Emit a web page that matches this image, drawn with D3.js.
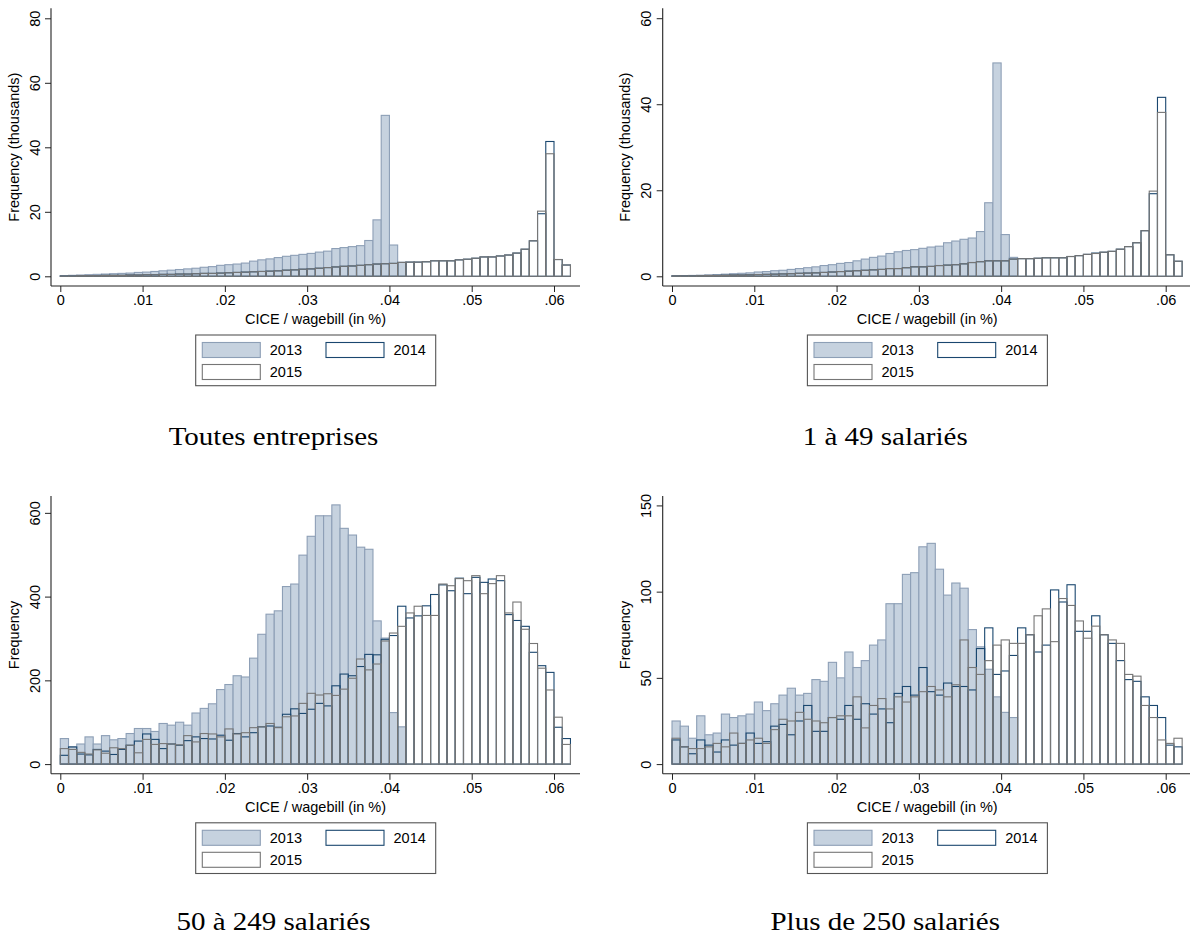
<!DOCTYPE html>
<html>
<head>
<meta charset="utf-8">
<script src="https://d3js.org/d3.v7.min.js"></script>
<style>
body { margin: 0; background: #fff; }
svg { display: block; }
text { font-family: "Liberation Sans", Arial, sans-serif; fill: #000; }
.title { font-family: "Liberation Serif", "Times New Roman", serif; }
</style>
</head>
<body>
<div id="chart"></div>
<script>
var width = 1190, height = 938;

// histogram bins: 0.001 wide, from 0 to .062
var binWidth = 0.001;
var xTicks = [0, .01, .02, .03, .04, .05, .06];
var xTickLabels = ["0", ".01", ".02", ".03", ".04", ".05", ".06"];
var years = ["2013", "2014", "2015"];

// Toutes entreprises (thousands)
var all2013 = [0.2,0.3,0.4,0.5,0.6,0.7,0.8,0.9,1.0,1.2, 1.3,1.5,1.7,1.9,2.1,2.3,2.5,2.8,3.0,3.4,
  3.6,3.8,4.1,4.7,5.1,5.4,5.8,6.2,6.5,6.8, 7.1,7.5,7.8,8.6,8.9,9.2,9.5,11.1,17.5,49.9, 9.7,4.3];
var all2014 = [0.1,0.1,0.2,0.2,0.2,0.3,0.3,0.3,0.4,0.4, 0.5,0.5,0.6,0.6,0.7,0.7,0.8,0.9,0.9,1.0,
  1.1,1.2,1.3,1.4,1.5,1.6,1.7,1.9,2.0,2.2, 2.3,2.5,2.7,2.9,3.1,3.2,3.4,3.6,3.8,3.9,
  4.0,4.3,4.4,4.4,4.5,4.8,4.8,4.8,5.1,5.3, 5.6,6.0,6.0,6.3,6.6,7.2,8.4,11.0,19.4,41.8, 5.2,3.5];
var all2015 = [0.1,0.1,0.2,0.2,0.2,0.3,0.3,0.3,0.4,0.4, 0.5,0.5,0.6,0.6,0.7,0.7,0.8,0.9,0.9,1.0,
  1.1,1.2,1.3,1.4,1.5,1.6,1.7,1.9,2.0,2.2, 2.3,2.5,2.7,2.9,3.1,3.2,3.4,3.6,3.8,3.9,
  4.0,4.3,4.4,4.4,4.5,4.8,4.8,4.8,5.1,5.3, 5.6,6.0,6.0,6.3,6.6,7.2,8.4,11.0,20.2,38.0, 5.2,3.5];

// 1 a 49 salaries (thousands)
var small2013 = [0.1,0.15,0.2,0.25,0.3,0.4,0.5,0.6,0.7,0.8, 1.0,1.1,1.3,1.4,1.6,1.8,2.0,2.2,2.5,2.7,
  3.0,3.2,3.6,4.0,4.4,4.7,5.3,5.7,6.0,6.2, 6.5,6.8,7.0,7.8,8.2,8.6,8.9,10.4,17.1,49.6, 9.7,4.4];
var small2014 = [0.1,0.1,0.1,0.15,0.2,0.2,0.25,0.3,0.3,0.35, 0.4,0.45,0.5,0.55,0.6,0.7,0.75,0.8,0.9,1.0,
  1.1,1.2,1.3,1.4,1.5,1.6,1.8,1.8,2.0,2.2, 2.2,2.3,2.5,2.6,2.7,2.9,3.2,3.4,3.6,3.6,
  3.6,4.0,4.1,4.1,4.2,4.3,4.3,4.3,4.6,4.8, 5.1,5.4,5.6,5.8,6.3,6.9,7.8,10.6,19.2,41.6, 5.0,3.5];
var small2015 = [0.1,0.1,0.1,0.15,0.2,0.2,0.25,0.3,0.3,0.35, 0.4,0.45,0.5,0.55,0.6,0.7,0.75,0.8,0.9,1.0,
  1.1,1.2,1.3,1.4,1.5,1.6,1.8,1.8,2.0,2.2, 2.2,2.3,2.5,2.6,2.7,2.9,3.2,3.4,3.6,3.6,
  3.6,4.0,4.1,4.1,4.2,4.3,4.3,4.3,4.6,4.8, 5.1,5.3,5.6,5.8,6.3,6.9,7.8,10.6,19.8,38.1, 5.0,3.5];

// 50 a 249 salaries
var mid2013 = [61,41,48,65,48,68,58,61,73,85, 85,78,97,93,100,93,122,133,144,178,
  190,211,208,253,310,358,366,424,430,499, 544,593,593,619,563,547,518,513,342,301, 123,89];
var mid2014 = [21,41,24,22,35,31,23,35,45,55, 72,59,37,48,45,56,65,61,60,69,
  57,73,65,75,89,91,88,119,132,121, 131,145,139,187,215,211,233,262,261,298,
  307,377,349,354,378,405,428,414,444,407, 446,434,442,438,357,343,329,267,235,219, 88,61];
var mid2015 = [37,35,28,24,34,26,39,37,45,27, 59,47,49,48,46,68,53,73,72,65,
  84,72,75,87,89,97,87,113,115,145, 169,165,168,164,179,205,251,225,239,294,
  313,329,361,377,355,355,430,426,443,438, 450,407,431,450,361,387,322,288,229,177, 112,47];

// Plus de 250 salaries
var large2013 = [25,22,15,28,17,18,29,27,28,29, 36,31,35,40,44,40,41,49,48,59,
  50,65,56,60,69,72,93,93,110,111, 126,128,113,98,105,102,78,68,55,39, 30,27];
var large2014 = [14,10,6,14,11,7,14,11,12,18, 12,13,22,23,17,25,34,19,19,27,
  26,34,26,35,29,32,24,41,45,40, 56,42,40,47,45,45,43,67,79,52,
  54,63,79,75,65,69,101,94,104,77, 77,86,75,70,60,49,48,39,34,27, 11,10];
var large2015 = [15,10,9,9,10,12,10,18,12,14, 15,12,20,26,25,30,26,25,24,27,
  28,28,39,21,34,38,32,39,36,39, 42,45,43,39,46,72,56,52,60,69,
  72,70,70,75,86,90,71,96,92,83, 73,80,75,72,70,52,51,34,27,14, 12,15];

var panels = [
  { title: "Toutes entreprises", yLabel: "Frequency (thousands)", yMax: 83.1,
    yTicks: [0, 20, 40, 60, 80], series: [all2013, all2014, all2015], dx: 0, dy: 0 },
  { title: "1 à 49 salariés", yLabel: "Frequency (thousands)", yMax: 62.3,
    yTicks: [0, 20, 40, 60], series: [small2013, small2014, small2015], dx: 611.7, dy: 0 },
  { title: "50 à 249 salariés", yLabel: "Frequency", yMax: 640,
    yTicks: [0, 200, 400, 600], series: [mid2013, mid2014, mid2015], dx: 0, dy: 487.8 },
  { title: "Plus de 250 salariés", yLabel: "Frequency", yMax: 155.4,
    yTicks: [0, 50, 100, 150], series: [large2013, large2014, large2015], dx: 611.7, dy: 487.8 }
];

var styles = [
  { fill: "#c6d2df", stroke: "#8d9fb6" },
  { fill: "none", stroke: "#1a476f" },
  { fill: "none", stroke: "#767676" }
];

var fontSize = 14.5;
var axisColor = "#222";

var svg = d3.select("#chart").append("svg")
  .attr("width", width).attr("height", height);

// geometry of one panel (local coordinates)
var axisX = 51, axisEnd = 580, plotTop = 8.3, zeroY = 276.3, axisY = 286;

var x = d3.scaleLinear().domain([0, 0.06]).range([60.3, 554]);

function drawPanel(p) {
  var g = svg.append("g").attr("transform", "translate(" + p.dx + "," + p.dy + ")");
  var y = d3.scaleLinear().domain([0, p.yMax]).range([zeroY, plotTop]);

  // bars, one layer per year, 2015 on top
  p.series.forEach(function (vals, k) {
    g.append("g").selectAll("rect").data(vals).enter().append("rect")
      .attr("x", function (d, i) { return x(i * binWidth); })
      .attr("width", x(binWidth) - x(0))
      .attr("y", function (d) { return y(d); })
      .attr("height", function (d) { return y(0) - y(d); })
      .style("fill", styles[k].fill)
      .style("stroke", styles[k].stroke)
      .style("stroke-width", 1.1);
  });

  // y axis
  var yAxis = g.append("g").attr("transform", "translate(" + axisX + ",0)")
    .call(d3.axisLeft(y).tickValues(p.yTicks).tickSize(6).tickSizeOuter(0));
  yAxis.select(".domain").remove();
  yAxis.selectAll(".tick line").attr("stroke", axisColor);
  yAxis.selectAll(".tick text")
    .attr("transform", "rotate(-90)")
    .attr("x", 0).attr("y", -11.5).attr("dy", 0)
    .attr("text-anchor", "middle")
    .style("font-size", fontSize + "px")
    .style("font-family", "'Liberation Sans', Arial, sans-serif");
  g.append("line").attr("x1", axisX).attr("x2", axisX)
    .attr("y1", plotTop).attr("y2", axisY)
    .attr("stroke", axisColor).attr("stroke-width", 1.1);

  // x axis
  var xAxis = g.append("g").attr("transform", "translate(0," + axisY + ")")
    .call(d3.axisBottom(x).tickValues(xTicks).tickSize(6).tickPadding(3)
      .tickFormat(function (d, i) { return xTickLabels[i]; }));
  xAxis.select(".domain").remove();
  xAxis.selectAll(".tick line").attr("stroke", axisColor);
  xAxis.selectAll(".tick text")
    .style("font-size", fontSize + "px")
    .style("font-family", "'Liberation Sans', Arial, sans-serif");
  g.append("line").attr("x1", axisX).attr("x2", axisEnd)
    .attr("y1", axisY).attr("y2", axisY)
    .attr("stroke", axisColor).attr("stroke-width", 1.1);

  // axis titles
  g.append("text")
    .attr("transform", "translate(18.5," + ((plotTop + axisY) / 2) + ") rotate(-90)")
    .attr("text-anchor", "middle")
    .style("font-size", fontSize + "px")
    .text(p.yLabel);
  g.append("text")
    .attr("x", (axisX + axisEnd) / 2).attr("y", 324)
    .attr("text-anchor", "middle")
    .style("font-size", fontSize + "px")
    .text("CICE / wagebill (in %)");

  // legend
  var lg = g.append("g");
  lg.append("rect").attr("x", 195.7).attr("y", 335).attr("width", 240).attr("height", 50.7)
    .style("fill", "#fff").style("stroke", "#555").style("stroke-width", 1.1);
  var items = [
    { col: 0, row: 0 }, { col: 1, row: 0 }, { col: 0, row: 1 }
  ];
  items.forEach(function (it, k) {
    var sx = it.col === 0 ? 202.3 : 326;
    var sy = it.row === 0 ? 342.5 : 364.5;
    lg.append("rect").attr("x", sx).attr("y", sy).attr("width", 58).attr("height", 15)
      .style("fill", styles[k].fill === "none" ? "#fff" : styles[k].fill)
      .style("stroke", styles[k].stroke).style("stroke-width", 1.1);
    lg.append("text").attr("x", sx + 67.5).attr("y", sy + 12.6)
      .style("font-size", fontSize + "px")
      .text(years[k]);
  });

  // panel caption (LaTeX subcaption style)
  g.append("text").attr("class", "title")
    .attr("transform", "translate(273.5," + (p.dy === 0 ? 445 : 442.5) + ") scale(1.16,1)")
    .attr("text-anchor", "middle")
    .style("font-size", "25px")
    .text(p.title);
}

panels.forEach(drawPanel);
</script>
</body>
</html>
